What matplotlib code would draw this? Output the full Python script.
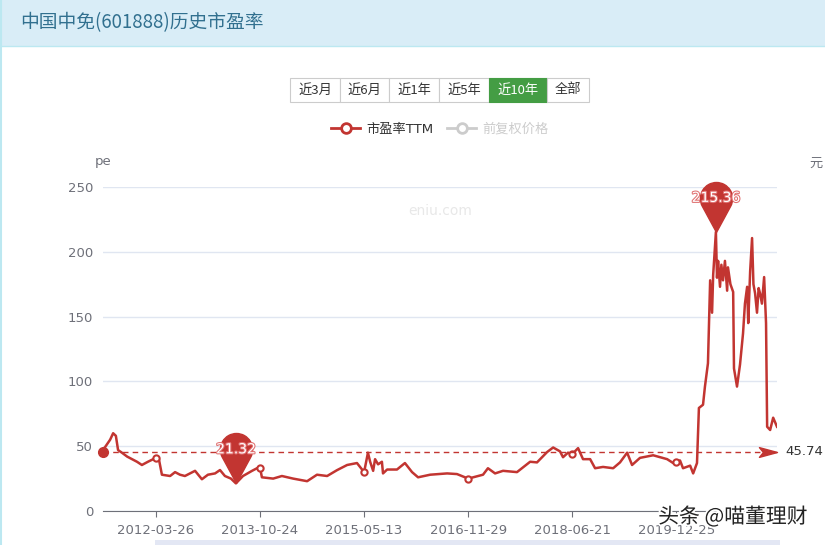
import numpy as np
import matplotlib
matplotlib.use('Agg')
from matplotlib import pyplot as plt
from matplotlib.path import Path
from matplotlib.patches import Rectangle
from matplotlib.lines import Line2D
import matplotlib.patheffects as pe

plt.rcParams['font.family'] = ['DejaVu Sans', 'Noto Sans CJK SC']

# trading-day index and PE (TTM)
day = [0, 26, 37, 47, 55, 69, 88, 106, 124, 142, 164, 193, 204, 215, 245, 263, 281, 299,
       336, 361, 383, 409, 427, 445, 467, 485, 511, 544, 562, 573, 580, 621, 653, 694, 719,
       745, 781, 818, 854, 891, 927, 938, 953, 967, 975, 986, 993, 1004, 1018, 1022, 1037,
       1073, 1102, 1128, 1150, 1194, 1256, 1292, 1333, 1387, 1405, 1431, 1460, 1511, 1559,
       1584, 1621, 1643, 1668, 1679, 1697, 1713, 1734, 1752, 1778, 1796, 1825, 1862, 1887,
       1913, 1931, 1960, 2008, 2059, 2081, 2093, 2106, 2117, 2143, 2154, 2168, 2175, 2190,
       2197, 2208, 2216, 2223, 2227, 2237, 2241, 2245, 2252, 2257, 2263, 2270, 2278, 2281,
       2290, 2300, 2303, 2314, 2325, 2336, 2343, 2351, 2355, 2362, 2369, 2374, 2380, 2387,
       2393, 2398, 2405, 2413, 2420, 2424, 2435, 2446, 2460]
pe_ttm = [47, 55, 60, 58, 47, 45, 42, 40, 38, 35.5, 38, 41, 40, 28, 27, 30, 28, 27,
          31, 24.5, 28, 29, 31.6, 27, 25, 21.32, 27, 31, 33, 33.5, 26, 25, 27, 25, 24,
          23, 28, 27, 31.5, 35.5, 37, 34, 30, 45, 38, 31, 40, 36, 38, 29, 32,
          32, 37, 30, 26, 28, 29, 28.5, 25, 28, 33, 29, 31, 30, 38,
          37.5, 45.5, 49, 46, 41.5, 45, 44, 48.5, 40, 40, 33, 34, 33, 37.5,
          45, 35.5, 41, 43, 40, 37, 38, 39, 33, 35, 29, 37, 79.5, 82,
          96, 114, 178, 153, 182, 215.36, 180, 193, 173, 190, 178, 193, 170, 188,
          175, 169, 110, 96, 113, 137, 160, 173, 145, 185, 210.6, 175, 168, 153,
          172, 168, 160, 180.5, 145, 65, 62.5, 72, 65]
pe_avg = 45.74

tick_days = [193, 573, 953, 1333, 1713, 2093]
tick_labels = ['2012-03-26', '2013-10-24', '2015-05-13', '2016-11-29', '2018-06-21', '2019-12-25']
y_ticks = [0, 50, 100, 150, 200, 250]
buttons = ['近3月', '近6月', '近1年', '近5年', '近10年', '全部']
active_button = '近10年'

RED = '#c23531'
W, H = 825, 545

fig = plt.figure(figsize=(W / 100, H / 100), dpi=100)

# background / page furniture in pixel coords
bg = fig.add_axes([0, 0, 1, 1], zorder=0)
bg.set_xlim(0, W)
bg.set_ylim(H, 0)
bg.axis('off')
bg.add_patch(Rectangle((0, 0), W, 46, facecolor='#d9edf7', edgecolor='none'))
bg.plot([0, W], [46, 46], color='#bce8f1', lw=1)
bg.plot([1, 1], [0, H], color='#bce8f1', lw=1.5)
bg.text(20, 23, '中国中免(601888)历史市盈率', fontsize=13.5, color='#31708f',
        va='center', ha='left', family=['Noto Sans CJK SC'])

# range buttons
edges = [290, 340, 389, 439, 489, 547, 589]
for i, b in enumerate(buttons):
    x0, x1 = edges[i], edges[i + 1]
    on = b == active_button
    bg.add_patch(Rectangle((x0, 78), x1 - x0, 24, facecolor='#449d44' if on else 'white',
                           edgecolor='#449d44' if on else '#cccccc', lw=0.8))
    bg.text((x0 + x1) / 2, 90, b, fontsize=9.5, color='white' if on else '#333333',
            ha='center', va='center', family=['Noto Sans CJK SC'])

bg.text(440, 211, 'eniu.com', fontsize=10, color='#e8e8e8', ha='center', va='center')
bg.text(103, 162, 'pe', fontsize=9.5, color='#6e7079', ha='center', va='center')
bg.text(816, 163, '元', fontsize=9.5, color='#6e7079', ha='center', va='center',
        family=['Noto Sans CJK SC'])
bg.add_patch(Rectangle((155, 540), 625, 6, facecolor='#e3e7f4', edgecolor='none'))

# main chart
ax = fig.add_axes([103 / W, 34 / H, 674 / W, 324 / H], zorder=1)
ax.patch.set_alpha(0)
ax.set_xlim(0, 2460)
ax.set_ylim(0, 250)
for s in ['top', 'right', 'left']:
    ax.spines[s].set_visible(False)
ax.spines['bottom'].set_color('#6e7079')
ax.set_yticks(y_ticks)
ax.tick_params(axis='y', length=0, pad=7, labelsize=9.5, labelcolor='#6e7079')
ax.set_xticks(tick_days)
ax.set_xticklabels(tick_labels)
ax.tick_params(axis='x', length=4, color='#6e7079', pad=5, labelsize=9.5, labelcolor='#6e7079')
ax.grid(axis='y', color='#e0e6f1', lw=1)
ax.set_axisbelow(True)

day = np.array(day)
pe_ttm = np.array(pe_ttm)
sym = np.where(np.isin(day, tick_days))[0]
ax.plot(day, pe_ttm, color=RED, lw=1.8, zorder=3, marker='o', markevery=list(sym),
        markersize=4.5, markerfacecolor='white', markeredgecolor=RED, markeredgewidth=1.5)

# average mark line
arrow = Path([(0, 0), (-1, 0.27), (-0.78, 0), (-1, -0.27), (0, 0)],
             [Path.MOVETO, Path.LINETO, Path.LINETO, Path.LINETO, Path.CLOSEPOLY])
ax.plot([day[0], day[-1]], [pe_avg, pe_avg], color=RED, lw=1, ls=(0, (4, 3)), zorder=4)
ax.plot(day[0], pe_avg, 'o', color=RED, markersize=7, zorder=5, clip_on=False)
ax.plot(day[-1], pe_avg, marker=arrow, color=RED, markersize=26, zorder=5, clip_on=False)
ax.annotate('%.2f' % pe_avg, (day[-1], pe_avg), xytext=(6, 0), textcoords='offset points',
            fontsize=9.5, color='#333333', va='center', ha='left', annotation_clip=False)

# min / max pins
c = 2.1
t = np.degrees(np.arccos(1 / c))
arc = Path.arc(-90 + t, 270 - t)
pv = np.vstack([arc.vertices + [0, c], [[0, 0], [0, 0]]])
pc = np.concatenate([arc.codes, [Path.LINETO, Path.CLOSEPOLY]])
pin = Path(pv, pc)
for i in [int(np.argmin(pe_ttm)), int(np.argmax(pe_ttm))]:
    ax.plot(day[i], pe_ttm[i], marker=pin, color=RED, markersize=72, zorder=6, clip_on=False)
    ax.annotate('%.2f' % pe_ttm[i], (day[i], pe_ttm[i]), xytext=(0, 24.5),
                textcoords='offset points', ha='center', va='center', fontsize=10,
                color='white', zorder=7, annotation_clip=False,
                path_effects=[pe.withStroke(linewidth=1.5, foreground='#e07070')])

# legend
h1 = Line2D([], [], color=RED, lw=2, marker='o', markersize=7, markerfacecolor='white',
            markeredgewidth=2)
h2 = Line2D([], [], color='#cccccc', lw=2, marker='o', markersize=7, markerfacecolor='white',
            markeredgewidth=2)
leg = fig.legend([h1, h2], ['市盈率TTM', '前复权价格'], loc='center', ncol=2,
                 bbox_to_anchor=(440 / W, 1 - 129 / H), frameon=False, fontsize=9.5,
                 handlelength=2.2, handletextpad=0.5, columnspacing=1.0)
leg.get_texts()[0].set_color('#333333')
leg.get_texts()[1].set_color('#cccccc')

fig.text(733 / W, 1 - 517 / H, '头条 @喵董理财', fontsize=15, color='#222222', ha='center',
         va='center', family=['Noto Sans CJK SC'], zorder=10,
         path_effects=[pe.withStroke(linewidth=2.5, foreground='white')])

fig.savefig('out.png', dpi=100)
